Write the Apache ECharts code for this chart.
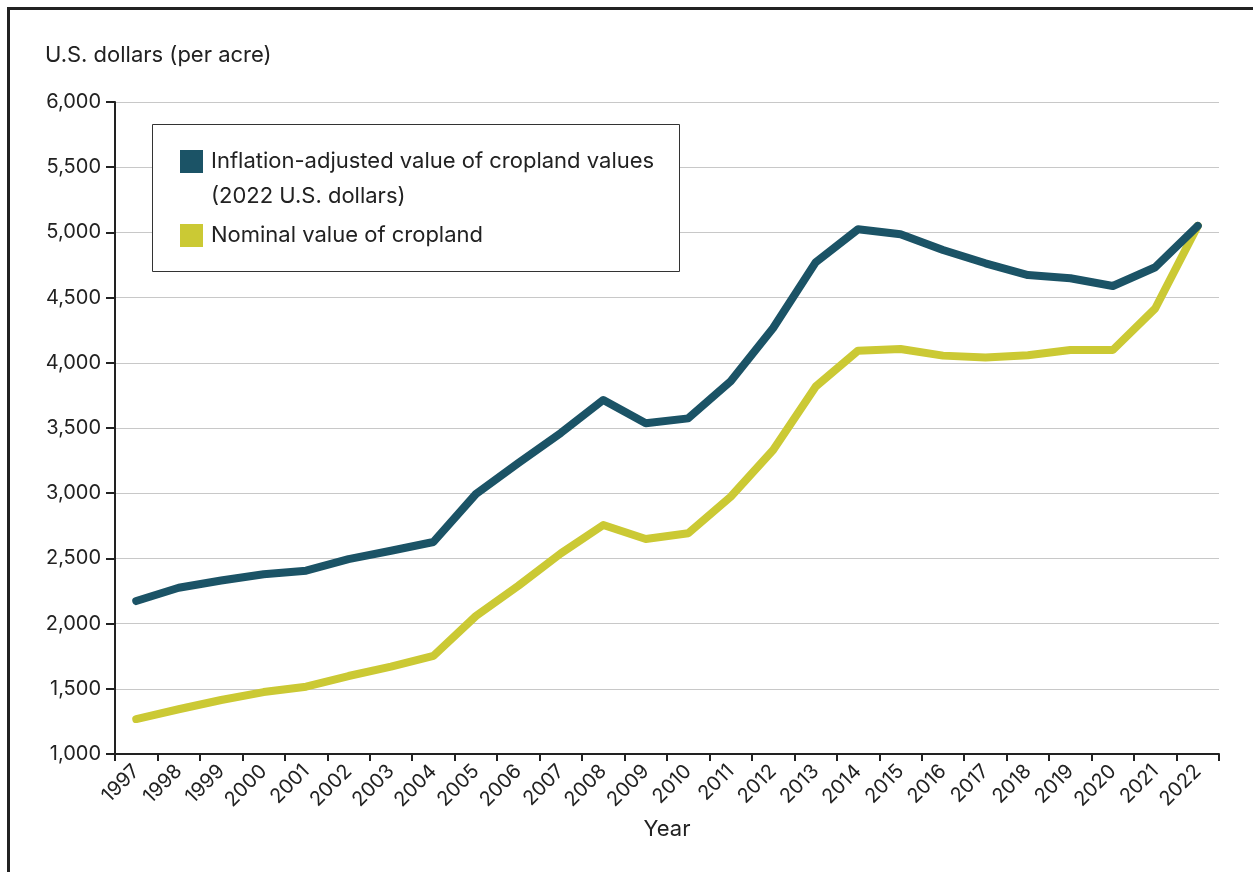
<!DOCTYPE html>
<html>
<head>
<meta charset="utf-8">
<script src="https://cdn.jsdelivr.net/npm/echarts@6/dist/echarts.min.js"></script>
<style>
html,body{margin:0;padding:0;background:#fff;overflow:hidden;}
#chart{width:1253px;height:872px;}
</style>
</head>
<body>
<div id="chart"></div>
<script>
const years = ['1997','1998','1999','2000','2001','2002','2003','2004','2005','2006','2007','2008','2009','2010','2011','2012','2013','2014','2015','2016','2017','2018','2019','2020','2021','2022'];
const inflationAdjusted = [2173,2275,2330,2378,2406,2495,2559,2626,2994,3232,3462,3715,3536,3574,3858,4267,4770,5024,4986,4865,4763,4673,4648,4589,4733,5050];
const nominal = [1268,1343,1414,1475,1516,1598,1670,1752,2058,2290,2539,2756,2649,2693,2973,3331,3817,4093,4106,4055,4040,4058,4098,4098,4418,5050];
const yTicks = [1000,1500,2000,2500,3000,3500,4000,4500,5000,5500,6000];
const seriesNames = ['Inflation-adjusted value of cropland values', 'Nominal value of cropland'];
const legendSecondLine = '(2022 U.S. dollars)';
const yTitle = 'U.S. dollars (per acre)';
const xTitle = 'Year';

const FONT = 'Inter';
const TEAL = '#1b5366';
const YEL = '#cbc934';
const chart = echarts.init(document.getElementById('chart'), null, {renderer:'canvas'});
chart.setOption({
  animation:false,
  backgroundColor:'#fff',
  textStyle:{fontFamily:FONT},
  title:{text:yTitle,left:45,top:44,padding:0,textStyle:{fontFamily:FONT,fontSize:22,fontWeight:'normal',color:'#222'}},
  grid:{left:115,right:34,top:102,bottom:118},
  legend:{
    orient:'vertical',left:180,top:150,padding:0,itemGap:51,itemWidth:23,itemHeight:23,
    icon:'rect',z:10,
    textStyle:{fontFamily:FONT,fontSize:22,color:'#222',padding:[0,0,0,3]},
    itemStyle:{borderWidth:0},
    data:seriesNames
  },
  xAxis:{
    type:'category',data:years,boundaryGap:true,
    name:xTitle,nameLocation:'middle',nameGap:64,
    nameTextStyle:{fontFamily:FONT,fontSize:22,color:'#222'},
    axisLine:{lineStyle:{color:'#222',width:2}},
    axisTick:{show:true,length:7,lineStyle:{color:'#222',width:2},alignWithLabel:false},
    axisLabel:{rotate:45,fontFamily:FONT,fontSize:20,color:'#222',margin:14,interval:0}
  },
  yAxis:{
    type:'value',min:yTicks[0],max:yTicks[yTicks.length-1],interval:500,
    axisLine:{show:true,lineStyle:{color:'#222',width:2}},
    axisTick:{show:true,length:9,lineStyle:{color:'#222',width:2}},
    axisLabel:{fontFamily:FONT,fontSize:20,color:'#222',margin:14,
      formatter:v=>v.toLocaleString('en-US')},
    splitLine:{show:true,lineStyle:{color:'#c8c8c8',width:1}}
  },
  graphic:[
    {type:'rect',shape:{x:8.5,y:8.5,width:1400,height:1000},style:{fill:'none',stroke:'#222',lineWidth:3},z:20,silent:true},
    {type:'rect',shape:{x:152.5,y:124.5,width:527,height:147},style:{fill:'#fff',stroke:'#333',lineWidth:1},z:3,silent:true},
    {type:'text',left:211,top:185,style:{text:legendSecondLine,font:'22px Inter',fill:'#222'},z:10,silent:true}
  ],
  series:[
    {name:seriesNames[0],type:'line',data:inflationAdjusted,symbol:'none',color:TEAL,
     lineStyle:{width:8,color:TEAL,cap:'round',join:'round'},z:3},
    {name:seriesNames[1],type:'line',data:nominal,symbol:'none',color:YEL,
     lineStyle:{width:8,color:YEL,cap:'round',join:'round'},z:2}
  ]
});
</script>
</body>
</html>
